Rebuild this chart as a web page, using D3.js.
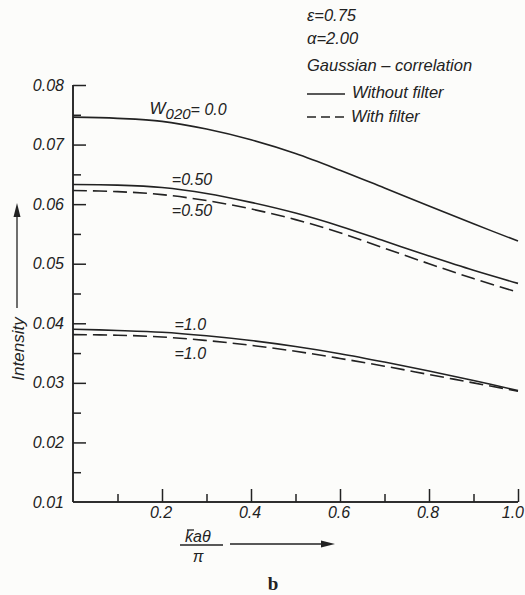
<!DOCTYPE html>
<html>
<head>
<meta charset="utf-8">
<script src="https://cdn.jsdelivr.net/npm/d3@7"></script>
<style>
  html, body { margin: 0; padding: 0; background: #fcfcfa; }
  svg { display: block; }
  text { font-family: "Liberation Sans", Arial, sans-serif; font-style: italic; fill: #222; }
</style>
</head>
<body>
<svg id="chart" width="525" height="595"></svg>
<script>
// Normalised angle k̄aθ/π sampled every 0.1
const xValues = [0, 0.1, 0.2, 0.3, 0.4, 0.5, 0.6, 0.7, 0.8, 0.9, 1.0];

// Intensity, without filter
const noFilterW00 = [0.0746, 0.0744, 0.0739, 0.0726, 0.0708, 0.0685, 0.0657, 0.0627, 0.0597, 0.0567, 0.0538];
const noFilterW05 = [0.0633, 0.0632, 0.0628, 0.0618, 0.0603, 0.0585, 0.0563, 0.0538, 0.0513, 0.0489, 0.0467];
const noFilterW10 = [0.0390, 0.0388, 0.0385, 0.0379, 0.0371, 0.0361, 0.0349, 0.0335, 0.0320, 0.0304, 0.0287];

// Intensity, with filter
const filterW05 = [0.0623, 0.0621, 0.0616, 0.0606, 0.0592, 0.0574, 0.0552, 0.0526, 0.0500, 0.0475, 0.0452];
const filterW10 = [0.0381, 0.0380, 0.0377, 0.0371, 0.0363, 0.0353, 0.0341, 0.0328, 0.0314, 0.0300, 0.0286];

const yTickLabels = ["0.01", "0.02", "0.03", "0.04", "0.05", "0.06", "0.07", "0.08"];
const xTickLabels = ["0.2", "0.4", "0.6", "0.8", "1.0"];

const ink = "#222";
const svg = d3.select("#chart");

const x = d3.scaleLinear().domain([0, 1]).range([73, 518]);
const y = d3.scaleLinear().domain([0.01, 0.08]).range([502, 85]);

// Y axis: major ticks every 0.01, minor every 0.005, ticks pointing inward
const yMajor = yTickLabels.map(Number);
const yMinor = d3.range(0.015, 0.08, 0.01);
const yAxis = d3.axisRight(y).tickValues(yMajor).tickSize(13).tickFormat("");
const gy = svg.append("g").attr("transform", `translate(${x(0)},0)`).call(yAxis);
gy.append("g").call(d3.axisRight(y).tickValues(yMinor).tickSize(8).tickFormat(""));
gy.selectAll("path.domain").attr("d", `M0,${y(0.08)}V${y(0.01)}`);
gy.selectAll("path, line").attr("stroke", ink).attr("stroke-width", 1.5);
gy.selectAll(".tick line").filter(d => d === 0.01).remove();

svg.append("g").selectAll("text").data(yTickLabels).join("text")
  .attr("x", x(0) - 9).attr("y", d => y(+d) + 5.5)
  .attr("text-anchor", "end").attr("font-size", 16).text(d => d);

// X axis: major ticks every 0.2, minor every 0.1, ticks pointing upward
const xMajor = xTickLabels.map(Number);
const xMinor = [0.1, 0.3, 0.5, 0.7, 0.9];
const gx = svg.append("g").attr("transform", `translate(0,${y(0.01)})`);
gx.call(d3.axisTop(x).tickValues(xMajor).tickSize(13).tickFormat(""));
gx.append("g").call(d3.axisTop(x).tickValues(xMinor).tickSize(8).tickFormat(""));
gx.selectAll("path.domain").attr("d", `M${x(0)},0H${x(1)}`);
gx.selectAll("path, line").attr("stroke", ink).attr("stroke-width", 1.5);

// the last label sits flush against the right edge
svg.append("g").selectAll("text").data(xTickLabels).join("text")
  .attr("x", (d, i) => i === xTickLabels.length - 1 ? 524 : x(+d) - 1)
  .attr("y", y(0.01) + 16)
  .attr("text-anchor", (d, i) => i === xTickLabels.length - 1 ? "end" : "middle")
  .attr("font-size", 16).text(d => d);

// Curves
const line = d3.line().x((d, i) => x(xValues[i])).y(d => y(d)).curve(d3.curveCatmullRom.alpha(0.5));
const series = [
  { v: noFilterW00, dash: null },
  { v: noFilterW05, dash: null },
  { v: noFilterW10, dash: null },
  { v: filterW05, dash: "14,6" },
  { v: filterW10, dash: "14,6" }
];
svg.append("g").selectAll("path").data(series).join("path")
  .attr("d", d => line(d.v))
  .attr("fill", "none").attr("stroke", ink).attr("stroke-width", 1.6)
  .attr("stroke-dasharray", d => d.dash);

// Curve annotations
const ann = svg.append("g").attr("font-size", 16);
const w = ann.append("text").attr("x", x(0.172)).attr("y", y(0.0744) - 4);
w.append("tspan").attr("font-size", 17).text("W");
w.append("tspan").attr("dy", 5).attr("font-size", 15).text("020");
w.append("tspan").attr("dy", -4).text("= 0.0");
ann.append("text").attr("x", x(0.222)).attr("y", y(0.0628) - 2).text("=0.50");
ann.append("text").attr("x", x(0.222)).attr("y", y(0.0617) + 22).text("=0.50");
ann.append("text").attr("x", x(0.228)).attr("y", y(0.0385) - 2).text("=1.0");
ann.append("text").attr("x", x(0.228)).attr("y", y(0.0378) + 23).text("=1.0");

// Parameter block and legend
const leg = svg.append("g").attr("font-size", 16.5);
leg.append("text").attr("x", 307).attr("y", 21).text("ε=0.75");
leg.append("text").attr("x", 307).attr("y", 44).text("α=2.00");
leg.append("text").attr("x", 307).attr("y", 71).text("Gaussian – correlation");
leg.append("line").attr("x1", 307).attr("x2", 345).attr("y1", 94).attr("y2", 94)
  .attr("stroke", ink).attr("stroke-width", 1.6);
leg.append("text").attr("x", 352).attr("y", 98).text("Without  filter");
leg.append("line").attr("x1", 307).attr("x2", 347).attr("y1", 117).attr("y2", 117)
  .attr("stroke", ink).attr("stroke-width", 1.6).attr("stroke-dasharray", "9,5");
leg.append("text").attr("x", 351).attr("y", 122).text("With  filter");

// Axis titles with arrows
const arrowHead = (g, x0, y0, dir) => {
  const p = dir === "up"
    ? [[x0, y0], [x0 - 3.5, y0 + 14], [x0 + 3.5, y0 + 14]]
    : [[x0, y0], [x0 - 14, y0 - 3.5], [x0 - 14, y0 + 3.5]];
  g.append("path").attr("d", "M" + p.join("L") + "Z").attr("fill", ink);
};
const yt = svg.append("g");
yt.append("text").attr("transform", "translate(24,349) rotate(-90)")
  .attr("text-anchor", "middle").attr("font-size", 17).text("Intensity");
yt.append("line").attr("x1", 17).attr("x2", 17).attr("y1", 308).attr("y2", 212)
  .attr("stroke", ink).attr("stroke-width", 1.3);
arrowHead(yt, 17, 203, "up");

const xt = svg.append("g");
xt.append("text").attr("x", 185).attr("y", 542).attr("font-size", 16).text("kaθ");
xt.append("line").attr("x1", 187).attr("x2", 194).attr("y1", 530).attr("y2", 530)
  .attr("stroke", ink).attr("stroke-width", 1.3);
xt.append("line").attr("x1", 180).attr("x2", 223).attr("y1", 545).attr("y2", 545)
  .attr("stroke", ink).attr("stroke-width", 1.3);
xt.append("text").attr("x", 198).attr("y", 562).attr("text-anchor", "middle")
  .attr("font-size", 16).text("π");
xt.append("line").attr("x1", 230).attr("x2", 323).attr("y1", 544).attr("y2", 544)
  .attr("stroke", ink).attr("stroke-width", 1.3);
arrowHead(xt, 335, 544, "right");

svg.append("text").attr("x", 273).attr("y", 590).attr("text-anchor", "middle")
  .style("font-family", "'Liberation Serif', serif").style("font-style", "normal")
  .attr("font-weight", "bold").attr("font-size", 19).text("b");
</script>
</body>
</html>
